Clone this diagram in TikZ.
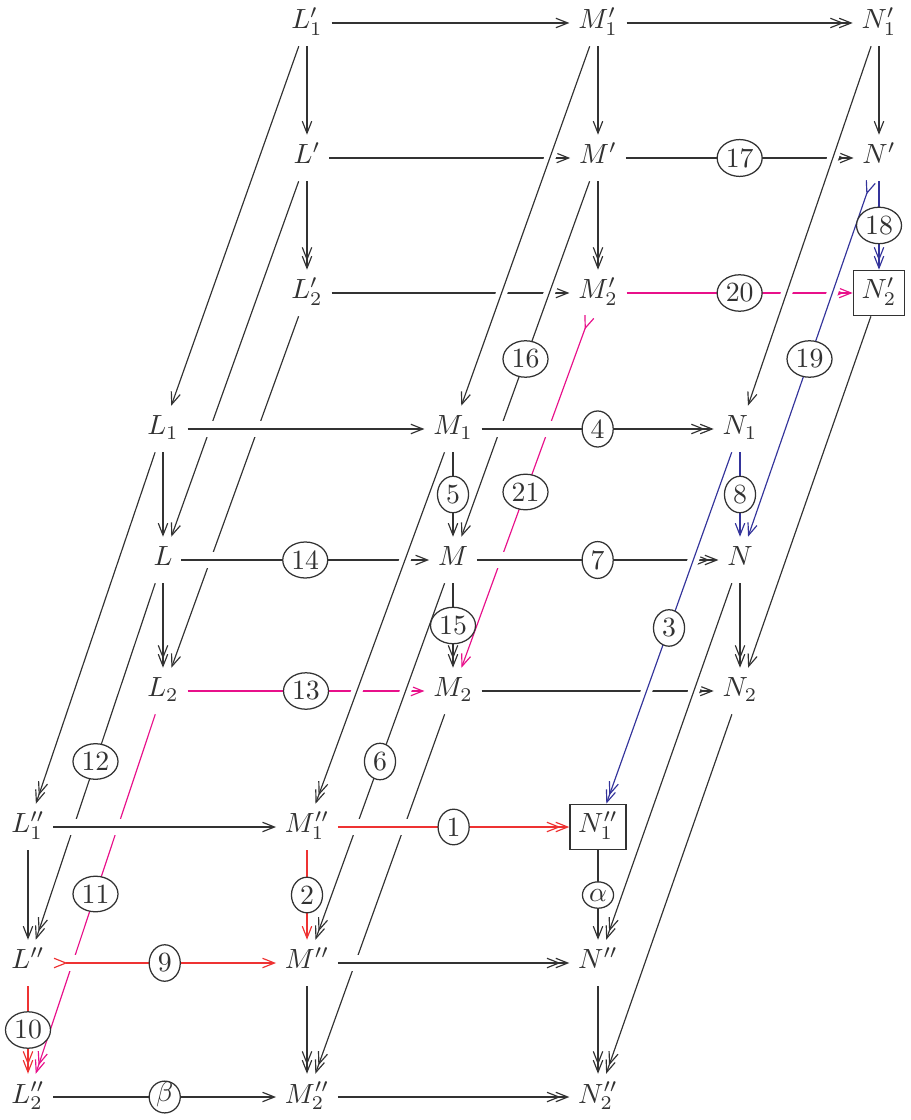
\documentclass[tikz,border=0pt]{standalone}
\usetikzlibrary{arrows.meta,shapes.geometric}
\definecolor{ink}{RGB}{50,50,50}
\definecolor{cred}{RGB}{238,50,50}
\definecolor{cmag}{RGB}{232,16,138}
\definecolor{cblue}{RGB}{52,52,155}
\tikzset{
  ob/.style={inner sep=3pt, text height=1.7ex, text depth=0.7ex, text=ink},
  boxed/.style={draw=ink, line width=0.45pt},
  ln/.style={draw=ink, line width=0.42pt},
  mono/.style={-{Straight Barb[length=4.3pt,width=3.4pt]}},
  epi/.style={-{Straight Barb[length=4.3pt,width=3.4pt,sep=-1.9pt]Straight Barb[length=4.3pt,width=3.4pt]}},
  tailmono/.style={{Straight Barb[length=4.3pt,width=3.4pt,reversed]}-{Straight Barb[length=4.3pt,width=3.4pt]}},
  hgap/.style={preaction={draw=white,-,line width=6pt,shorten <=4pt,shorten >=4pt}},
  dgap/.style={preaction={draw=white,-,line width=4pt,shorten <=5pt,shorten >=5pt}},
  lab/.style={ellipse, draw=ink, fill=white, inner xsep=0.73pt, inner ysep=1.2pt, minimum width=11.2pt, line width=0.45pt, text=ink},
}
\begin{document}
\begin{tikzpicture}[x=0.36pt,y=-0.36pt]
\useasboundingbox (0,0) rectangle (910,1120);
% ---------- objects ----------
% back layer
\node[ob] (Lp1) at (307,23) {$L'_1$};
\node[ob] (Mp1) at (598,23) {$M'_1$};
\node[ob] (Np1) at (879,23) {$N'_1$};
\node[ob] (Lp) at (307,158) {$L'$};
\node[ob] (Mp) at (598,158) {$M'$};
\node[ob] (Np) at (879,158) {$N'$};
\node[ob] (Lp2) at (307,293) {$L'_2$};
\node[ob] (Mp2) at (598,293) {$M'_2$};
\node[ob,boxed] (Np2) at (879,293) {$N'_2$};
% middle layer
\node[ob] (L1) at (163,429) {$L_1$};
\node[ob] (M1) at (453,429) {$M_1$};
\node[ob] (N1) at (740,429) {$N_1$};
\node[ob] (L) at (163,560) {$L$};
\node[ob] (M) at (453,560) {$M$};
\node[ob] (N) at (740,560) {$N$};
\node[ob] (L2) at (163,691) {$L_2$};
\node[ob] (M2) at (453,691) {$M_2$};
\node[ob] (N2) at (740,691) {$N_2$};
% front layer
\node[ob] (Lpp1) at (28,827) {$L''_1$};
\node[ob] (Mpp1) at (307,827) {$M''_1$};
\node[ob,boxed] (Npp1) at (598,827) {$N''_1$};
\node[ob] (Lpp) at (28,963) {$L''$};
\node[ob] (Mpp) at (307,963) {$M''$};
\node[ob] (Npp) at (598,963) {$N''$};
\node[ob] (Lpp2) at (28,1097) {$L''_2$};
\node[ob] (Mpp2) at (307,1097) {$M''_2$};
\node[ob] (Npp2) at (598,1097) {$N''_2$};
% ---------- back layer arrows ----------
\draw[ln,mono] (Lp1) -- (Mp1);
\draw[ln,epi] (Mp1) -- (Np1);
\draw[ln,mono] (Lp) -- (Mp);
\draw[ln,epi] (Mp) -- (Np);
\draw[ln,mono] (Lp2) -- (Mp2);
\draw[ln,epi,draw=cmag] (Mp2) -- (Np2);
\draw[ln,mono] (Lp1) -- (Lp);
\draw[ln,epi] (Lp) -- (Lp2);
\draw[ln,mono] (Mp1) -- (Mp);
\draw[ln,epi] (Mp) -- (Mp2);
\draw[ln,mono] (Np1) -- (Np);
\draw[ln,epi,draw=cblue] (Np) -- (Np2);
% ---------- diagonals back -> middle ----------
\draw[ln,mono,dgap] (Lp1) -- (L1);
\draw[ln,mono,dgap] (Lp) -- (L);
\draw[ln,mono,dgap] (Lp2) -- (L2);
\draw[ln,mono,dgap] (Mp1) -- (M1);
\draw[ln,mono,dgap] (Mp) -- (M);
\draw[ln,tailmono,dgap,draw=cmag] (Mp2) -- (M2);
\draw[ln,mono,dgap] (Np1) -- (N1);
\draw[ln,tailmono,dgap,draw=cblue] (Np) -- (N);
\draw[ln,mono,dgap] (Np2) -- (N2);
% ---------- middle layer arrows ----------
\draw[ln,mono,hgap] (L1) -- (M1);
\draw[ln,epi,hgap] (M1) -- (N1);
\draw[ln,mono,hgap] (L) -- (M);
\draw[ln,epi,hgap] (M) -- (N);
\draw[ln,mono,hgap,draw=cmag] (L2) -- (M2);
\draw[ln,epi,hgap] (M2) -- (N2);
\draw[ln,mono] (L1) -- (L);
\draw[ln,epi] (L) -- (L2);
\draw[ln,mono] (M1) -- (M);
\draw[ln,epi] (M) -- (M2);
\draw[ln,mono,draw=cblue] (N1) -- (N);
\draw[ln,epi] (N) -- (N2);
% ---------- diagonals middle -> front ----------
\draw[ln,epi,dgap] (L1) -- (Lpp1);
\draw[ln,epi,dgap] (L) -- (Lpp);
\draw[ln,epi,dgap,draw=cmag] (L2) -- (Lpp2);
\draw[ln,epi,dgap] (M1) -- (Mpp1);
\draw[ln,epi,dgap] (M) -- (Mpp);
\draw[ln,epi,dgap] (M2) -- (Mpp2);
\draw[ln,epi,dgap,draw=cblue] (N1) -- (Npp1);
\draw[ln,epi,dgap] (N) -- (Npp);
\draw[ln,epi,dgap] (N2) -- (Npp2);
% ---------- front layer arrows ----------
\draw[ln,mono,hgap] (Lpp1) -- (Mpp1);
\draw[ln,epi,hgap,draw=cred] (Mpp1) -- (Npp1);
\draw[ln,tailmono,hgap,draw=cred] (Lpp) -- (Mpp);
\draw[ln,epi,hgap] (Mpp) -- (Npp);
\draw[ln,mono,hgap] (Lpp2) -- (Mpp2);
\draw[ln,epi,hgap] (Mpp2) -- (Npp2);
\draw[ln,mono] (Lpp1) -- (Lpp);
\draw[ln,epi,draw=cred] (Lpp) -- (Lpp2);
\draw[ln,mono,draw=cred] (Mpp1) -- (Mpp);
\draw[ln,epi] (Mpp) -- (Mpp2);
\draw[ln,mono] (Npp1) -- (Npp);
\draw[ln,epi] (Npp) -- (Npp2);
% ---------- labels ----------
\path (Mpp1) -- node[lab] (l1) {1} (Npp1);
\path (Mpp1) -- node[lab] (l2) {2} (Mpp);
\path (N1) -- node[lab] (l3) {3} (Npp1);
\path (M1) -- node[lab] (l4) {4} (N1);
\path (M1) -- node[lab] (l5) {5} (M);
\path (M) -- node[lab] (l6) {6} (Mpp);
\path (M) -- node[lab] (l7) {7} (N);
\path (N1) -- node[lab] (l8) {8} (N);
\path (Lpp) -- node[lab] (l9) {9} (Mpp);
\path (Lpp) -- node[lab] (l10) {10} (Lpp2);
\path (L2) -- node[lab] (l11) {11} (Lpp2);
\path (L) -- node[lab] (l12) {12} (Lpp);
\path (L2) -- node[lab] (l13) {13} (M2);
\path (L) -- node[lab] (l14) {14} (M);
\path (M) -- node[lab] (l15) {15} (M2);
\path (Mp) -- node[lab] (l16) {16} (M);
\path (Mp) -- node[lab] (l17) {17} (Np);
\path (Np) -- node[lab] (l18) {18} (Np2);
\path (Np) -- node[lab] (l19) {19} (N);
\path (Mp2) -- node[lab] (l20) {20} (Np2);
\path (Mp2) -- node[lab] (l21) {21} (M2);
\path (Npp1) -- node[lab] (lalpha) {$\alpha$} (Npp);
\path (Lpp2) -- node[lab,text height=4.3pt,text depth=1.4pt] (lbeta) {$\beta$} (Mpp2);
\end{tikzpicture}
\end{document}
